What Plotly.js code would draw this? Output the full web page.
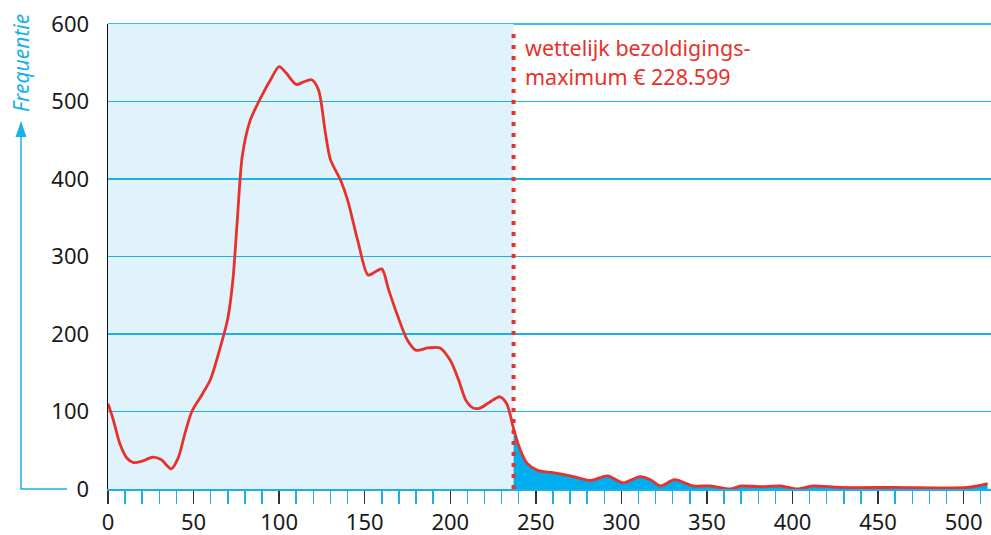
<!DOCTYPE html>
<html>
<head>
<meta charset="utf-8">
<script src="https://cdn.plot.ly/plotly-3.0.1.min.js"></script>
<style>html,body{margin:0;padding:0;background:#fff;}#chart{width:991px;height:535px;}</style>
</head>
<body>
<div id="chart"></div>
<script>
// Income (x, thousands €) and frequency values
const incomeK = [0, 3, 7, 11, 15, 20, 26, 31, 37, 41, 45, 49, 55, 60, 65, 70, 73, 75.5, 78.5, 83, 90, 95, 100, 104, 110, 114, 119, 123, 127, 130, 136, 140, 146, 152, 156, 160, 164, 169, 175, 180, 187, 194, 200, 205, 209, 213, 217, 223, 229, 233, 237, 241, 245, 251, 260, 272, 282, 292, 301, 311, 317, 323, 331, 342, 352, 364, 370, 381, 393, 403, 412, 428, 460, 502, 514];
const frequency = [110, 90, 58, 40, 34, 36, 41, 38, 26, 40, 72, 100, 122, 142, 178, 220, 270, 345, 430, 475, 508, 528, 545, 537, 522, 525, 528, 515, 460, 425, 398, 373, 320, 276, 280, 284, 257, 225, 192, 179, 182, 182, 166, 140, 115, 105, 104, 112, 119, 110, 78, 50, 33, 24, 21, 16, 11, 17, 8, 16, 12, 4, 12, 4, 4, 0, 4, 3, 4, 0, 4, 2, 2, 2, 7];
const maxSalaryK = 237;
const xTickVals = [0, 50, 100, 150, 200, 250, 300, 350, 400, 450, 500];
const yTickVals = [0, 100, 200, 300, 400, 500, 600];
const labelLine1 = 'wettelijk bezoldigings-';
const labelLine2 = 'maximum € 228.599';
const yTitle = 'Frequentie';

const aboveX = [], aboveY = [];
incomeK.forEach((x, i) => { if (x >= maxSalaryK) { aboveX.push(x); aboveY.push(frequency[i]); } });

const red = '#e8312a';
const blue = '#1ab0e8';
const font = 'Noto Sans, Open Sans, sans-serif';

const traces = [
  { x: aboveX, y: aboveY, type: 'scatter', mode: 'lines', fill: 'tozeroy',
    fillcolor: '#00aeef', line: { width: 0, shape: 'spline', smoothing: 0.8, color: 'rgba(0,0,0,0)' }, hoverinfo: 'skip' },
  { x: incomeK, y: frequency, type: 'scatter', mode: 'lines',
    line: { color: red, width: 2.8, shape: 'spline', smoothing: 0.8 } }
];

// plot area: l=108, width 883; t=24, height 465
const pw = 883, ph = 465;
const px = v => (v - 108) / pw;
const py = v => (489 - v) / ph;

const layout = {
  width: 991, height: 535,
  margin: { l: 108, r: 0, t: 24, b: 46 },
  paper_bgcolor: '#fff', plot_bgcolor: 'rgba(0,0,0,0)',
  showlegend: false,
  font: { family: font, color: '#1a1a1a', size: 22 },
  xaxis: {
    range: [0, 516], tickvals: xTickVals, ticks: 'outside', ticklen: 13, tickwidth: 1.5, tickcolor: '#333',
    showgrid: false, zeroline: false, showline: true, linecolor: blue, linewidth: 1.5,
    minor: { dtick: 10, tick0: 0, ticks: 'outside', ticklen: 13, tickwidth: 1.5, tickcolor: blue, showgrid: false },
    tickfont: { size: 22, family: font, color: '#1a1a1a' }
  },
  yaxis: {
    range: [0, 600], tickvals: yTickVals, ticks: 'outside', ticklen: 13, tickcolor: 'rgba(0,0,0,0)',
    showgrid: true, gridcolor: blue, gridwidth: 1.5, zeroline: false,
    showline: true, linecolor: '#111', linewidth: 1.5,
    tickfont: { size: 22, family: font, color: '#1a1a1a' }
  },
  shapes: [
    { type: 'rect', xref: 'x', yref: 'y', x0: 0, x1: maxSalaryK, y0: 0, y1: 600, fillcolor: '#e0f2fb', line: { width: 0 }, layer: 'below' },
    { type: 'line', xref: 'paper', yref: 'paper', x0: 0, x1: 1, y0: 1, y1: 1, line: { color: '#3cbcee', width: 2 }, layer: 'between' },
    { type: 'line', xref: 'x', yref: 'y', x0: maxSalaryK, x1: maxSalaryK, y0: 0, y1: 594, line: { color: red, width: 4, dash: '4px,7px' }, layer: 'above' },
    { type: 'line', xref: 'paper', yref: 'paper', x0: px(21), x1: px(21), y0: 0, y1: py(134), line: { color: blue, width: 1.5 } },
    { type: 'line', xref: 'paper', yref: 'paper', x0: px(20.3), x1: px(67), y0: 0, y1: 0, line: { color: blue, width: 1.5 } },
    { type: 'path', xref: 'paper', yref: 'paper',
      path: 'M ' + px(21) + ' ' + py(121) + ' L ' + px(15.5) + ' ' + py(137) + ' L ' + px(26.5) + ' ' + py(137) + ' Z',
      fillcolor: blue, line: { width: 0 } }
  ],
  annotations: [
    { xref: 'x', yref: 'y', x: maxSalaryK, y: 570, xanchor: 'left', yanchor: 'middle', xshift: 9, showarrow: false,
      text: labelLine1, font: { family: font, size: 21.5, color: red } },
    { xref: 'x', yref: 'y', x: maxSalaryK, y: 532, xanchor: 'left', yanchor: 'middle', xshift: 9, showarrow: false,
      text: labelLine2, font: { family: font, size: 21.5, color: red } },
    { xref: 'paper', yref: 'paper', x: px(21), y: py(63), xanchor: 'center', yanchor: 'middle', textangle: -90, showarrow: false,
      text: '<i>' + yTitle + '</i>', font: { family: font, size: 21, color: blue } }
  ]
};

Plotly.newPlot('chart', traces, layout, { displayModeBar: false, staticPlot: true });
</script>
</body>
</html>
